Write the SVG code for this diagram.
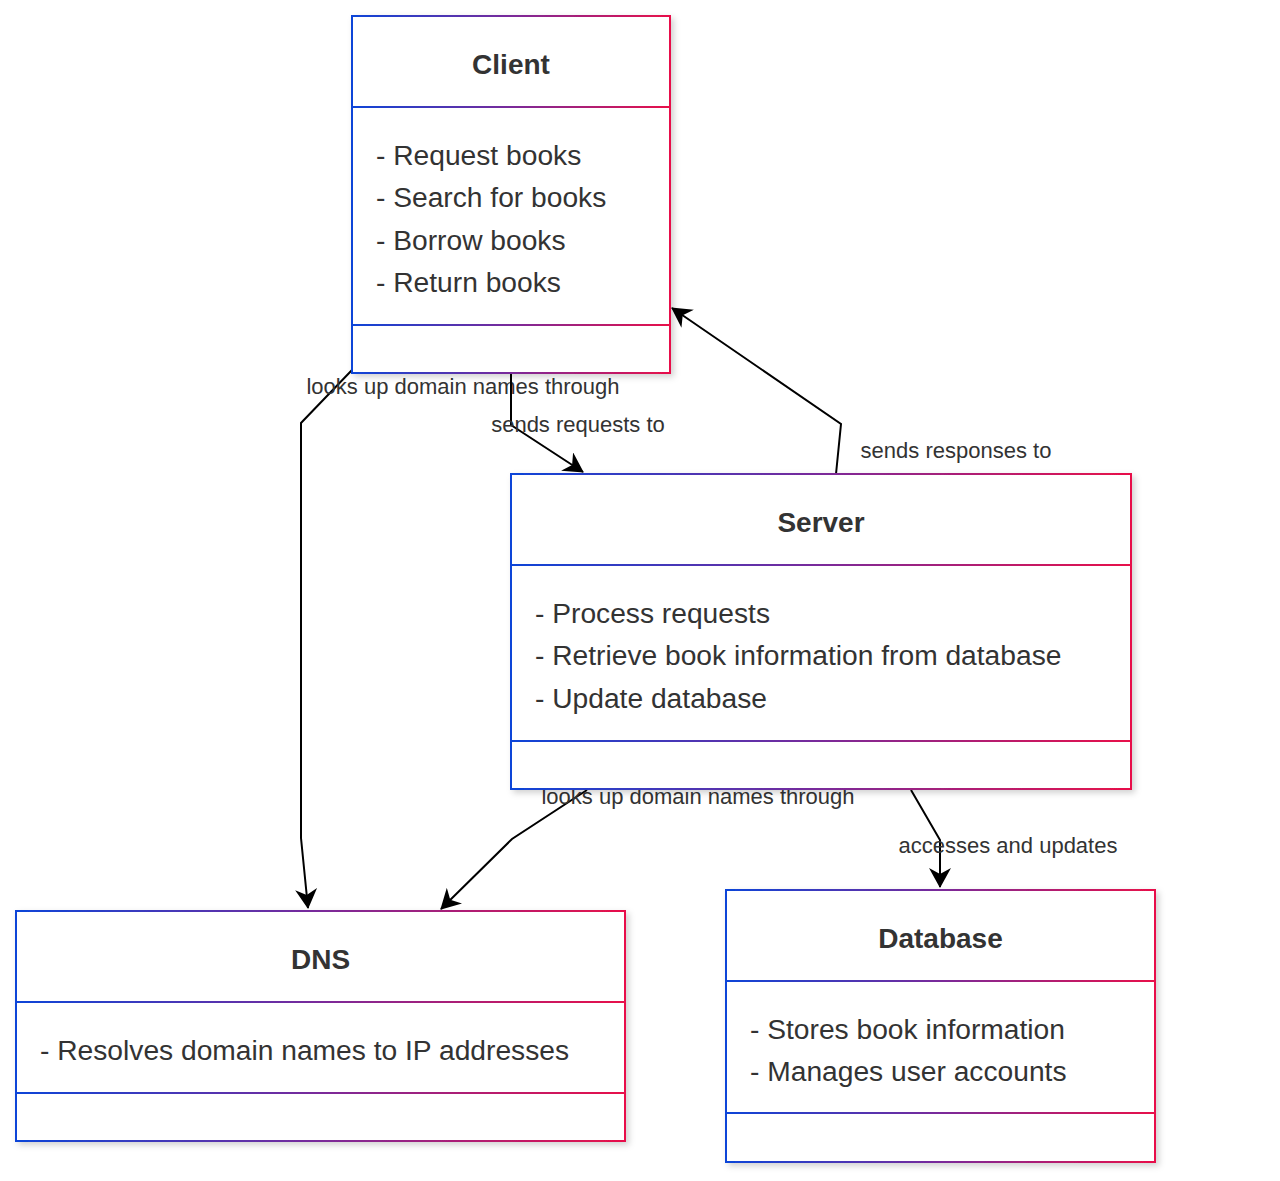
<svg xmlns="http://www.w3.org/2000/svg" width="1280" height="1181" viewBox="0 0 1280 1181">
  <style>
    .frame { fill: #ffffff; stroke: url(#grad); stroke-width: 2; filter: url(#shadow); }
    .div { fill: url(#grad); }
    .title { font-family: "Liberation Sans", Arial, sans-serif; font-size: 28px; font-weight: bold; fill: #333333; text-anchor: middle; }
    .body { font-family: "Liberation Sans", Arial, sans-serif; font-size: 28.2px; fill: #333333; }
    .label { font-family: "Liberation Sans", Arial, sans-serif; font-size: 22px; fill: #333333; text-anchor: middle; }
    .edge { fill: none; stroke: #000000; stroke-width: 2; marker-end: url(#arrow); }
  </style>
  <defs>
    <linearGradient id="grad" x1="0" y1="0" x2="1" y2="0">
      <stop offset="0" stop-color="#0d45d8"/>
      <stop offset="0.5" stop-color="#7a2a9a"/>
      <stop offset="1" stop-color="#e8104a"/>
    </linearGradient>
    <filter id="shadow" x="-5%" y="-5%" width="115%" height="115%">
      <feDropShadow dx="3" dy="3" stdDeviation="3" flood-color="#000000" flood-opacity="0.18"/>
    </filter>
    <marker id="arrow" viewBox="0 0 20 22" refX="19" refY="11" markerWidth="20" markerHeight="22" markerUnits="userSpaceOnUse" orient="auto">
      <path d="M0,0 L20,11 L0,22 L6,11 z" fill="#000000"/>
    </marker>
  </defs>

  <g id="connectors">
    <g id="edge-client-dns">
      <path class="edge" d="M352,370 L301,423 L301,838 L308,908"/>
      <text class="label" x="463" y="394">looks up domain names through</text>
    </g>
    <g id="edge-client-server">
      <path class="edge" d="M511,374 L511,425 L583,472"/>
      <text class="label" x="578" y="432">sends requests to</text>
    </g>
    <g id="edge-server-client">
      <path class="edge" d="M836,474 L841,424 L672,308"/>
      <text class="label" x="956" y="458">sends responses to</text>
    </g>
    <g id="edge-server-dns">
      <path class="edge" d="M587,790 L512,839 L441,909"/>
      <text class="label" x="698" y="804">looks up domain names through</text>
    </g>
    <g id="edge-server-database">
      <path class="edge" d="M911,790 L940,840 L940,887"/>
      <text class="label" x="1008" y="853">accesses and updates</text>
    </g>
  </g>

  <g id="node-client">
    <rect class="frame" x="352" y="16" width="318" height="357"/>
    <rect class="div" x="352" y="106" width="318" height="2"/>
    <rect class="div" x="352" y="324" width="318" height="2"/>
    <text class="title" x="511" y="74">Client</text>
    <text class="body" x="376" y="165">- Request books</text>
    <text class="body" x="376" y="207">- Search for books</text>
    <text class="body" x="376" y="250">- Borrow books</text>
    <text class="body" x="376" y="292">- Return books</text>
  </g>

  <g id="node-server">
    <rect class="frame" x="511" y="474" width="620" height="315"/>
    <rect class="div" x="511" y="564" width="620" height="2"/>
    <rect class="div" x="511" y="740" width="620" height="2"/>
    <text class="title" x="821" y="532">Server</text>
    <text class="body" x="535" y="623">- Process requests</text>
    <text class="body" x="535" y="665">- Retrieve book information from database</text>
    <text class="body" x="535" y="708">- Update database</text>
  </g>

  <g id="node-dns">
    <rect class="frame" x="16" y="911" width="609" height="230"/>
    <rect class="div" x="16" y="1001" width="609" height="2"/>
    <rect class="div" x="16" y="1092" width="609" height="2"/>
    <text class="title" x="320.5" y="969">DNS</text>
    <text class="body" x="40" y="1060">- Resolves domain names to IP addresses</text>
  </g>

  <g id="node-database">
    <rect class="frame" x="726" y="890" width="429" height="272"/>
    <rect class="div" x="726" y="980" width="429" height="2"/>
    <rect class="div" x="726" y="1112" width="429" height="2"/>
    <text class="title" x="940.5" y="948">Database</text>
    <text class="body" x="750" y="1039">- Stores book information</text>
    <text class="body" x="750" y="1081">- Manages user accounts</text>
  </g>
</svg>
